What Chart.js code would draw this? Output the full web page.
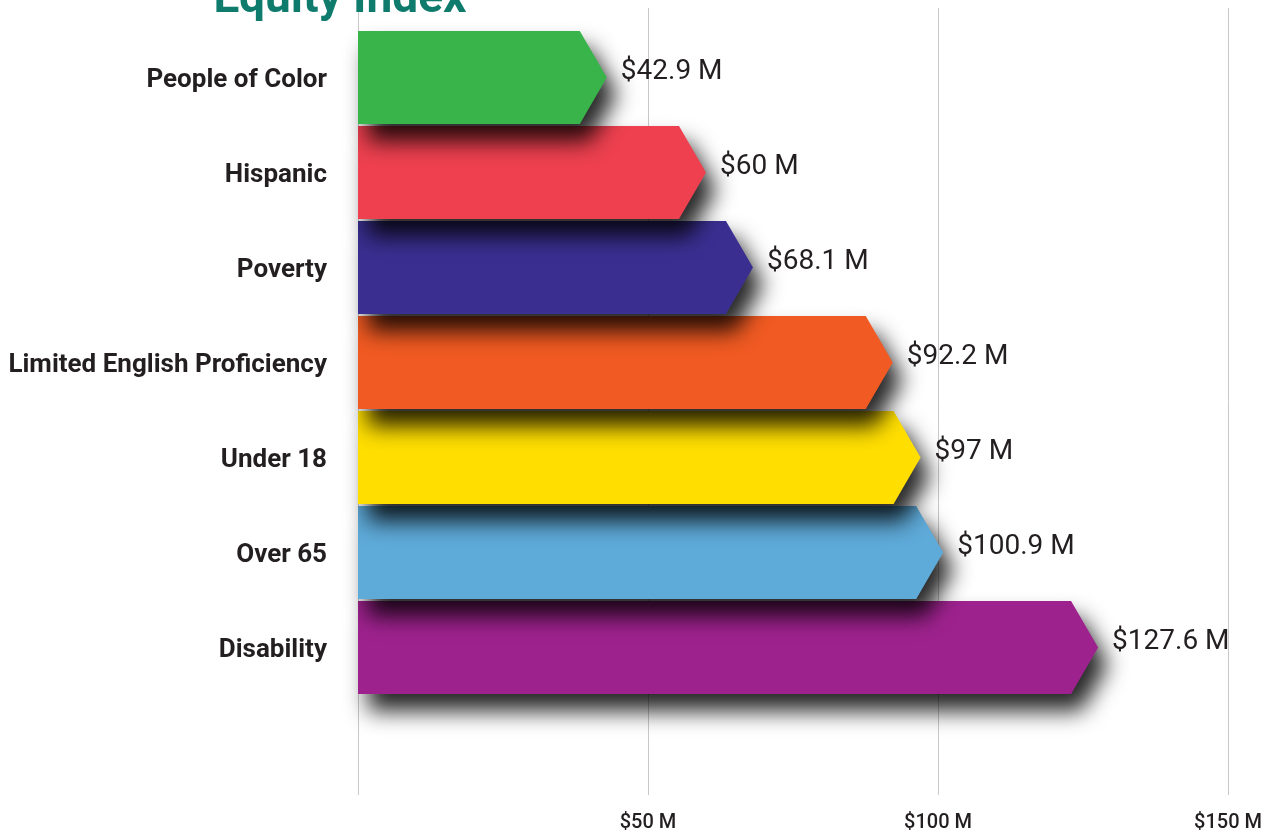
<!DOCTYPE html>
<html>
<head>
<meta charset="utf-8">
<script src="https://cdn.jsdelivr.net/npm/chart.js@4.4.1/dist/chart.umd.min.js"></script>
<style>
  html, body { margin: 0; padding: 0; background: #ffffff; }
  #wrap { width: 1272px; height: 835px; position: relative; overflow: hidden; }
</style>
</head>
<body>
<div id="wrap"><canvas id="c" width="1272" height="835"></canvas></div>
<script>
const titleText = 'Equity Index';
const categories = ['People of Color', 'Hispanic', 'Poverty', 'Limited English Proficiency', 'Under 18', 'Over 65', 'Disability'];
const values = [42.9, 60, 68.1, 92.2, 97, 100.9, 127.6];
const valueLabels = ['$42.9 M', '$60 M', '$68.1 M', '$92.2 M', '$97 M', '$100.9 M', '$127.6 M'];
const barColors = ['#39b44a', '#ee404f', '#3a2f91', '#f15a22', '#ffde00', '#5eaad9', '#9e228e'];
const tickValues = [0, 50, 100, 150];
const tickLabels = ['', '$50 M', '$100 M', '$150 M'];

const arrowPlugin = {
  id: 'arrowBars',
  beforeDatasetsDraw(chart) {
    const ctx = chart.ctx;
    const xs = chart.scales.x;
    ctx.save();
    ctx.strokeStyle = '#c9c9c9';
    ctx.lineWidth = 1;
    tickValues.forEach(v => {
      const px = Math.round(xs.getPixelForValue(v)) + 0.5;
      ctx.beginPath();
      ctx.moveTo(px, 8);
      ctx.lineTo(px, 795);
      ctx.stroke();
    });
    ctx.restore();
  },
  afterDatasetsDraw(chart) {
    const ctx = chart.ctx;
    const meta = chart.getDatasetMeta(0);
    const d = 27;
    ctx.save();
    for (let i = meta.data.length - 1; i >= 0; i--) {
      const el = meta.data[i];
      const p = el.getProps(['x', 'y', 'base', 'height'], true);
      const h = p.height / 2;
      ctx.save();
      ctx.shadowColor = 'rgba(0,0,0,0.85)';
      ctx.shadowBlur = 22;
      ctx.shadowOffsetX = 10;
      ctx.shadowOffsetY = 17;
      ctx.fillStyle = barColors[i];
      ctx.beginPath();
      ctx.moveTo(p.base, p.y - h);
      ctx.lineTo(p.x - d, p.y - h);
      ctx.lineTo(p.x, p.y);
      ctx.lineTo(p.x - d, p.y + h);
      ctx.lineTo(p.base, p.y + h);
      ctx.closePath();
      ctx.fill();
      ctx.restore();
    }
    ctx.fillStyle = '#231f20';
    ctx.font = '400 28px Roboto';
    ctx.textAlign = 'left';
    ctx.textBaseline = 'middle';
    meta.data.forEach((el, i) => {
      const p = el.getProps(['x', 'y'], true);
      ctx.fillText(valueLabels[i], p.x + 14, p.y - 6);
    });
    ctx.restore();
  },
  afterDraw(chart) {
    const ctx = chart.ctx;
    ctx.save();
    ctx.fillStyle = '#0e7b6c';
    ctx.font = '700 46px Roboto';
    ctx.textAlign = 'center';
    ctx.textBaseline = 'alphabetic';
    ctx.fillText(titleText, 340, 12);
    ctx.restore();
  }
};

new Chart(document.getElementById('c'), {
  type: 'bar',
  data: {
    labels: categories,
    datasets: [{
      data: values,
      backgroundColor: 'rgba(0,0,0,0)',
      borderWidth: 0,
      barPercentage: 0.98,
      categoryPercentage: 1.0
    }]
  },
  options: {
    indexAxis: 'y',
    responsive: false,
    animation: false,
    devicePixelRatio: 1,
    events: [],
    layout: { padding: { top: 30, right: 44, bottom: 0, left: 0 } },
    plugins: { legend: { display: false }, tooltip: { enabled: false }, title: { display: false } },
    scales: {
      x: {
        type: 'linear',
        min: 0,
        max: 150,
        afterBuildTicks: s => { s.ticks = tickValues.map(v => ({ value: v })); },
        ticks: {
          callback: (v) => tickLabels[tickValues.indexOf(v)],
          font: { family: 'Roboto', size: 20, weight: '500' },
          color: '#231f20',
          padding: 4,
          maxRotation: 0
        },
        grid: { display: false, drawTicks: true, tickLength: 112 },
        border: { display: false },
        afterFit: s => { s.height = 140; }
      },
      y: {
        type: 'category',
        grid: { display: false, drawTicks: true, tickLength: 27 },
        border: { display: false },
        ticks: {
          font: { family: 'Roboto', size: 26, weight: 'bold' },
          color: '#231f20',
          padding: 4,
          labelOffset: 3
        },
        afterFit: s => { s.width = 358; }
      }
    }
  },
  plugins: [arrowPlugin]
});
</script>
</body>
</html>
